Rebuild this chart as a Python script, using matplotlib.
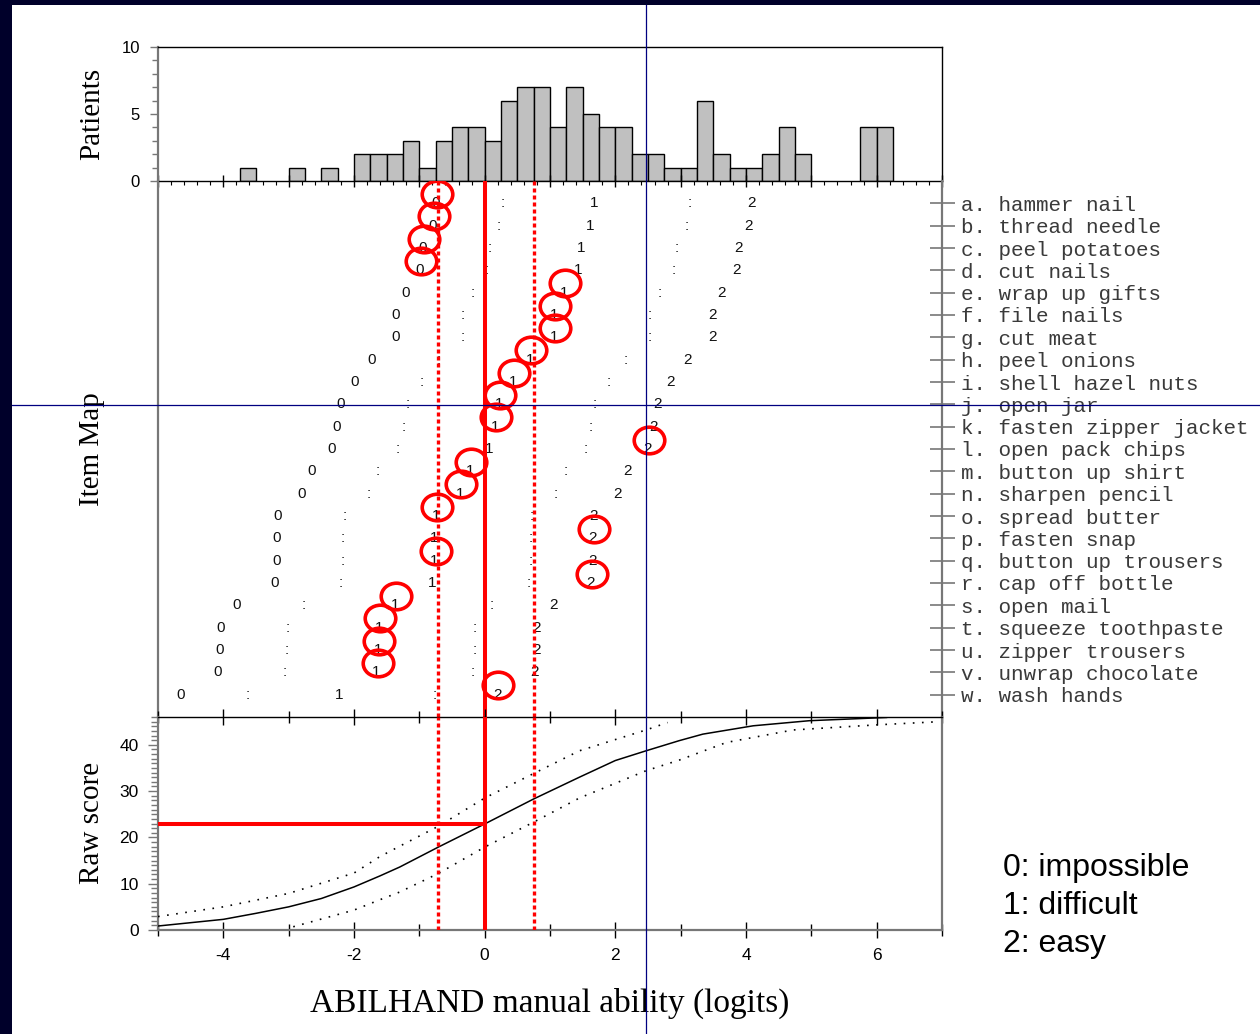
import matplotlib
matplotlib.use('Agg')
import matplotlib.pyplot as plt
from matplotlib.path import Path
from matplotlib.lines import Line2D
from matplotlib.patches import Rectangle
from matplotlib.ticker import MultipleLocator, FixedLocator

plt.rcParams['axes.unicode_minus'] = False

# histogramme des mesures des patients (bord gauche de la classe, effectif), largeur 0.25 logit
hist_left = [-3.75, -3.0, -2.5, -2.0, -1.75, -1.5, -1.25, -1.0, -0.75, -0.5, -0.25, 0.0,
             0.25, 0.5, 0.75, 1.0, 1.25, 1.5, 1.75, 2.0, 2.25, 2.5, 2.75, 3.0, 3.25, 3.5,
             3.75, 4.0, 4.25, 4.5, 4.75, 5.75, 6.0]
hist_count = [1, 1, 1, 2, 2, 2, 3, 1, 3, 4, 4, 3, 6, 7, 7, 4, 7, 5, 4, 4, 2, 2, 1, 1, 6, 2,
              1, 1, 2, 4, 2, 4, 4]
bin_width = 0.25

# items ABILHAND
item_labels = ['a. hammer nail', 'b. thread needle', 'c. peel potatoes', 'd. cut nails',
               'e. wrap up gifts', 'f. file nails', 'g. cut meat', 'h. peel onions',
               'i. shell hazel nuts', 'j. open jar', 'k. fasten zipper jacket',
               'l. open pack chips', 'm. button up shirt', 'n. sharpen pencil',
               'o. spread butter', 'p. fasten snap', 'q. button up trousers',
               'r. cap off bottle', 's. open mail', 't. squeeze toothpaste',
               'u. zipper trousers', 'v. unwrap chocolate', 'w. wash hands']
item_loc = [1.67, 1.62, 1.47, 1.43, 1.21, 1.06, 1.06, 0.69, 0.43, 0.22, 0.16, 0.07, -0.23,
            -0.38, -0.75, -0.77, -0.77, -0.80, -1.37, -1.62, -1.63, -1.66, -2.23]
step_offset = [-2.42, -1.40, 0.0, 1.47, 2.42]
step_char = ['0', ':', '1', ':', '2']
response = [0, 0, 0, 0, 1, 1, 1, 1, 1, 1, 1, 2, 1, 1, 1, 2, 1, 2, 1, 1, 1, 1, 2]

# patient
patient_measure = 0.0
patient_ci = [-0.72, 0.75]
patient_raw = 23

# score attendu et bornes
exp_x = [-5.0, -4.0, -3.5, -3.0, -2.5, -2.0, -1.6, -1.3, -0.71, 0.0, 0.75, 1.45, 2.0,
         2.47, 2.98, 3.34, 4.11, 4.97, 6.15]
exp_y = [0.86, 2.3, 3.6, 5.0, 6.8, 9.3, 11.7, 13.6, 17.9, 22.9, 28.3, 33.0, 36.6,
         38.7, 40.9, 42.3, 44.1, 45.2, 45.9]
up_x = [-5.0, -4.0, -3.0, -2.0, -1.61, -1.3, -0.71, 0.0, 0.75, 1.45, 2.47, 2.8]
up_y = [2.9, 5.0, 7.9, 12.3, 15.8, 18.1, 22.4, 28.5, 33.8, 38.7, 43.2, 44.8]
lo_x = [-2.93, -2.0, -1.61, -1.3, -0.71, 0.0, 0.75, 1.45, 2.47, 2.98, 3.70, 4.72, 6.0, 6.97]
lo_y = [0.7, 4.3, 6.5, 8.2, 12.2, 17.9, 23.3, 28.5, 34.4, 36.7, 40.5, 43.2, 44.3, 45.0]

legend_lines = ['0: impossible', '1: difficult', '2: easy']

W, H = 1260, 1034
serif = 'Liberation Serif'
sans = 'Liberation Sans'
mono = 'Liberation Mono'
gray = '#777777'
red = '#ff0000'

fig = plt.figure(figsize=(W / 100, H / 100), dpi=100)
fig.patch.set_facecolor('#00002a')
fig.add_artist(Rectangle((12 / W, 0), 1 - 12 / W, 1 - 5 / H, transform=fig.transFigure,
                         facecolor='white', edgecolor='none', zorder=-5))


def px_axes(x0, y0, x1, y1):
    return fig.add_axes([x0 / W, 1 - y1 / H, (x1 - x0) / W, (y1 - y0) / H])


ax_h = px_axes(158, 47, 942, 181)
ax_m = px_axes(158, 181, 942, 717)
ax_r = px_axes(158, 717, 942, 930)
for ax in (ax_h, ax_m, ax_r):
    ax.set_xlim(-5, 7)
    ax.set_facecolor('none')

# --- histogramme
ax_h.bar(hist_left, hist_count, width=bin_width, align='edge', color='#c0c0c0',
         edgecolor='black', linewidth=1.0)
ax_h.set_ylim(0, 10)
ax_h.spines['left'].set_color(gray)
ax_h.spines['left'].set_linewidth(1.6)
for s in ('top', 'right', 'bottom'):
    ax_h.spines[s].set_linewidth(1.0)
ax_h.yaxis.set_major_locator(FixedLocator([0, 5, 10]))
ax_h.yaxis.set_minor_locator(MultipleLocator(1))
ax_h.tick_params(axis='y', which='major', direction='out', length=6, width=1,
                 color=gray, labelsize=12, pad=7)
ax_h.tick_params(axis='y', which='minor', direction='out', length=4, width=1, color=gray)
ax_h.xaxis.set_major_locator(MultipleLocator(1))
ax_h.xaxis.set_minor_locator(MultipleLocator(0.2))
ax_h.tick_params(axis='x', which='major', direction='inout', length=9, width=1,
                 labelbottom=False)
ax_h.tick_params(axis='x', which='minor', direction='out', length=3, width=0.8)
for lab in ax_h.get_yticklabels():
    lab.set_fontfamily(sans)

# --- carte des items
ax_m.set_ylim(len(item_labels) + 1, 0)
rows = list(range(1, len(item_labels) + 1))
for r, loc, resp in zip(rows, item_loc, response):
    for off, ch in zip(step_offset, step_char):
        ax_m.text(loc + off, r, ch, ha='center', va='center', fontsize=11,
                  fontfamily=sans, color='#111111', zorder=3)
circ = Path.unit_circle()
ellipse = Path(circ.vertices * [1.0, 0.87], circ.codes)
cx = [loc + step_offset[2 * resp] + 0.02 for loc, resp in zip(item_loc, response)]
cy = [r - 0.42 for r in rows]
ax_m.plot(cx, cy, linestyle='none', marker=ellipse, markersize=22, markerfacecolor='none',
          markeredgecolor=red, markeredgewidth=2.6, zorder=5)
ax_m.spines['top'].set_visible(False)
ax_m.spines['bottom'].set_visible(False)
ax_m.spines['left'].set_color(gray)
ax_m.spines['left'].set_linewidth(1.6)
ax_m.spines['right'].set_color(gray)
ax_m.spines['right'].set_linewidth(1.6)
ax_m.set_xticks([])
ax_m.yaxis.tick_right()
ax_m.set_yticks(rows)
ax_m.set_yticklabels(item_labels, fontfamily=mono, fontsize=15, color='#3a3a3a')
ax_m.tick_params(axis='y', which='major', direction='inout', length=18, width=1.2,
                 color=gray, pad=5, left=False)

# --- score brut
ax_r.plot(exp_x, exp_y, color='black', linewidth=1.1, zorder=3)
ax_r.plot(up_x, up_y, color='black', linewidth=1.2, linestyle=(0, (1, 4.5)), zorder=3)
ax_r.plot(lo_x, lo_y, color='black', linewidth=1.2, linestyle=(0, (1, 4.5)), zorder=3)
ax_r.set_ylim(0, 46)
ax_r.spines['top'].set_linewidth(1.0)
for s in ('left', 'bottom', 'right'):
    ax_r.spines[s].set_color(gray)
    ax_r.spines[s].set_linewidth(1.6)
ax_r.yaxis.set_major_locator(MultipleLocator(10))
ax_r.yaxis.set_minor_locator(MultipleLocator(1))
ax_r.tick_params(axis='y', which='major', direction='out', length=7, width=1,
                 color=gray, labelsize=12.5, pad=7)
ax_r.tick_params(axis='y', which='minor', direction='out', length=5, width=1, color=gray)
ax_r.xaxis.set_major_locator(MultipleLocator(2))
ax_r.xaxis.set_minor_locator(MultipleLocator(1))
ax_r.tick_params(axis='x', which='major', direction='inout', length=12, width=1,
                 top=True, labelsize=12.5, pad=7)
ax_r.tick_params(axis='x', which='minor', direction='inout', length=8, width=1, top=True)
for lab in ax_r.get_yticklabels() + ax_r.get_xticklabels():
    lab.set_fontfamily(sans)

# --- lignes du patient
for ax in (ax_m, ax_r):
    ax.axvline(patient_measure, color=red, linewidth=2.9, zorder=4)
    for c in patient_ci:
        ax.axvline(c, color=red, linewidth=2.4, linestyle=(0, (1.2, 0.9)), zorder=4)
ax_r.plot([-5, patient_measure], [patient_raw, patient_raw], color=red, linewidth=2.9,
          solid_capstyle='butt', zorder=4)

# --- titres des axes
fig.text(92 / W, 1 - 114 / H, 'Patients', rotation=90, ha='center', va='center',
         fontfamily=serif, fontsize=21)
fig.text(92 / W, 1 - 449 / H, 'Item Map', rotation=90, ha='center', va='center',
         fontfamily=serif, fontsize=21)
fig.text(92 / W, 1 - 823 / H, 'Raw score', rotation=90, ha='center', va='center',
         fontfamily=serif, fontsize=21)
fig.text(550 / W, 1 - 1003 / H, 'ABILHAND manual ability (logits)', ha='center',
         va='center', fontfamily=serif, fontsize=24)

# --- légende
for i, t in enumerate(legend_lines):
    fig.text(1003 / W, 1 - (868 + 38 * i) / H, t, ha='left', va='center',
             fontfamily=sans, fontsize=23)

# --- réticule bleu
fig.add_artist(Line2D([646 / W, 646 / W], [0, 1 - 5 / H], transform=fig.transFigure,
                      color='#000080', linewidth=0.9, zorder=20))
fig.add_artist(Line2D([12 / W, 1], [1 - 405 / H, 1 - 405 / H], transform=fig.transFigure,
                      color='#000080', linewidth=0.9, zorder=20))

fig.savefig('out.png', dpi=100, facecolor=fig.get_facecolor())
